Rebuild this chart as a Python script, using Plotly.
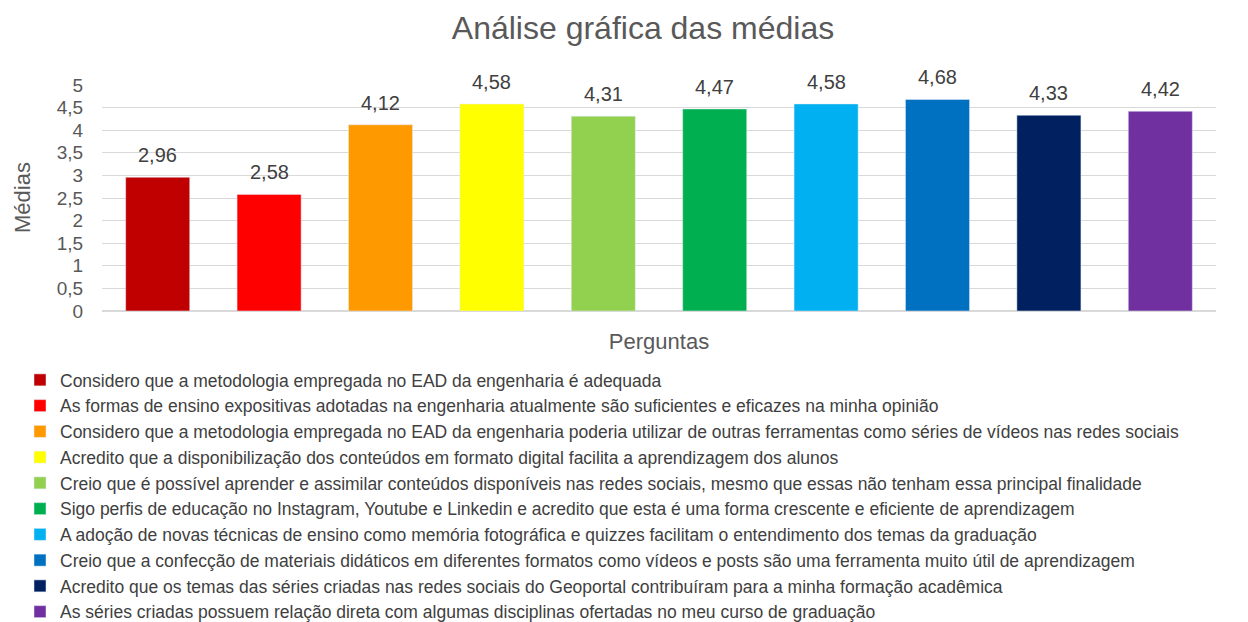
import plotly.graph_objects as go

perguntas = [
    "Considero que a metodologia empregada no EAD da engenharia é adequada",
    "As formas de ensino expositivas adotadas na engenharia atualmente são suficientes e eficazes na minha opinião",
    "Considero que a metodologia empregada no EAD da engenharia poderia utilizar de outras ferramentas como séries de vídeos nas redes sociais",
    "Acredito que a disponibilização dos conteúdos em formato digital facilita a aprendizagem dos alunos",
    "Creio que é possível aprender e assimilar conteúdos disponíveis nas redes sociais, mesmo que essas não tenham essa principal finalidade",
    "Sigo perfis de educação no Instagram, Youtube e Linkedin e acredito que esta é uma forma crescente e eficiente de aprendizagem",
    "A adoção de novas técnicas de ensino como memória fotográfica e quizzes facilitam o entendimento dos temas da graduação",
    "Creio que a confecção de materiais didáticos em diferentes formatos como vídeos e posts são uma ferramenta muito útil de aprendizagem",
    "Acredito que os temas das séries criadas nas redes sociais do Geoportal contribuíram para a minha formação acadêmica",
    "As séries criadas possuem relação direta com algumas disciplinas ofertadas no meu curso de graduação",
]
medias = [2.96, 2.58, 4.12, 4.58, 4.31, 4.47, 4.58, 4.68, 4.33, 4.42]
cores = ["#C00000", "#FF0000", "#FF9900", "#FFFF00", "#92D050",
         "#00B050", "#00B0F0", "#0070C0", "#002060", "#7030A0"]
y_ticks = [0, 0.5, 1, 1.5, 2, 2.5, 3, 3.5, 4, 4.5, 5]

FONT = "Liberation Sans, Arial, sans-serif"
GRAY = "#595959"

fig = go.Figure()
for i, (p, m, c) in enumerate(zip(perguntas, medias, cores)):
    fig.add_trace(go.Bar(x=[i], y=[m], name=p, marker_color=c, width=0.575))
    fig.add_annotation(x=i, y=m, text=f"{m:.2f}".replace(".", ","), showarrow=False,
                       yanchor="bottom", yshift=9,
                       font=dict(size=20, color="#404040", family=FONT))

# y-axis title
fig.add_annotation(text="Médias", xref="paper", yref="paper", x=(22 - 102) / 1114, y=0.5,
                   xanchor="center", yanchor="middle", textangle=-90, showarrow=False,
                   font=dict(size=22, color=GRAY, family=FONT))

fig.update_layout(
    width=1248, height=622,
    paper_bgcolor="white", plot_bgcolor="white",
    separators=",.",
    barmode="overlay",
    margin=dict(l=102, r=32, t=85, b=311, autoexpand=False),
    font=dict(family=FONT, color=GRAY),
    title=dict(text="Análise gráfica das médias", x=643 / 1248, xanchor="center",
               y=1 - 28 / 622, yanchor="middle", font=dict(size=32, color=GRAY)),
    xaxis=dict(range=[-0.5, 9.5], showticklabels=False, showgrid=False,
               showline=True, linecolor="#d9d9d9", zeroline=False,
               title=dict(text="Perguntas", font=dict(size=22, color=GRAY), standoff=22)),
    yaxis=dict(range=[0, 5], tickvals=y_ticks, tickformat=".1~f",
               showgrid=True, gridcolor="#d9d9d9", zeroline=True, zerolinecolor="#d9d9d9",
               ticks="outside", ticklen=14, tickcolor="rgba(0,0,0,0)",
               tickfont=dict(size=19, color=GRAY)),
    showlegend=True,
    legend=dict(xref="container", yref="container", x=20 / 1248, xanchor="left",
                y=1 - 362 / 622, yanchor="top", font=dict(size=17.5, color="#404040", family=FONT),
                tracegroupgap=0, bgcolor="rgba(0,0,0,0)", itemclick=False),
)

fig.write_html("out.html", post_script="document.body.style.margin='0';",
               config={"displayModeBar": False})
